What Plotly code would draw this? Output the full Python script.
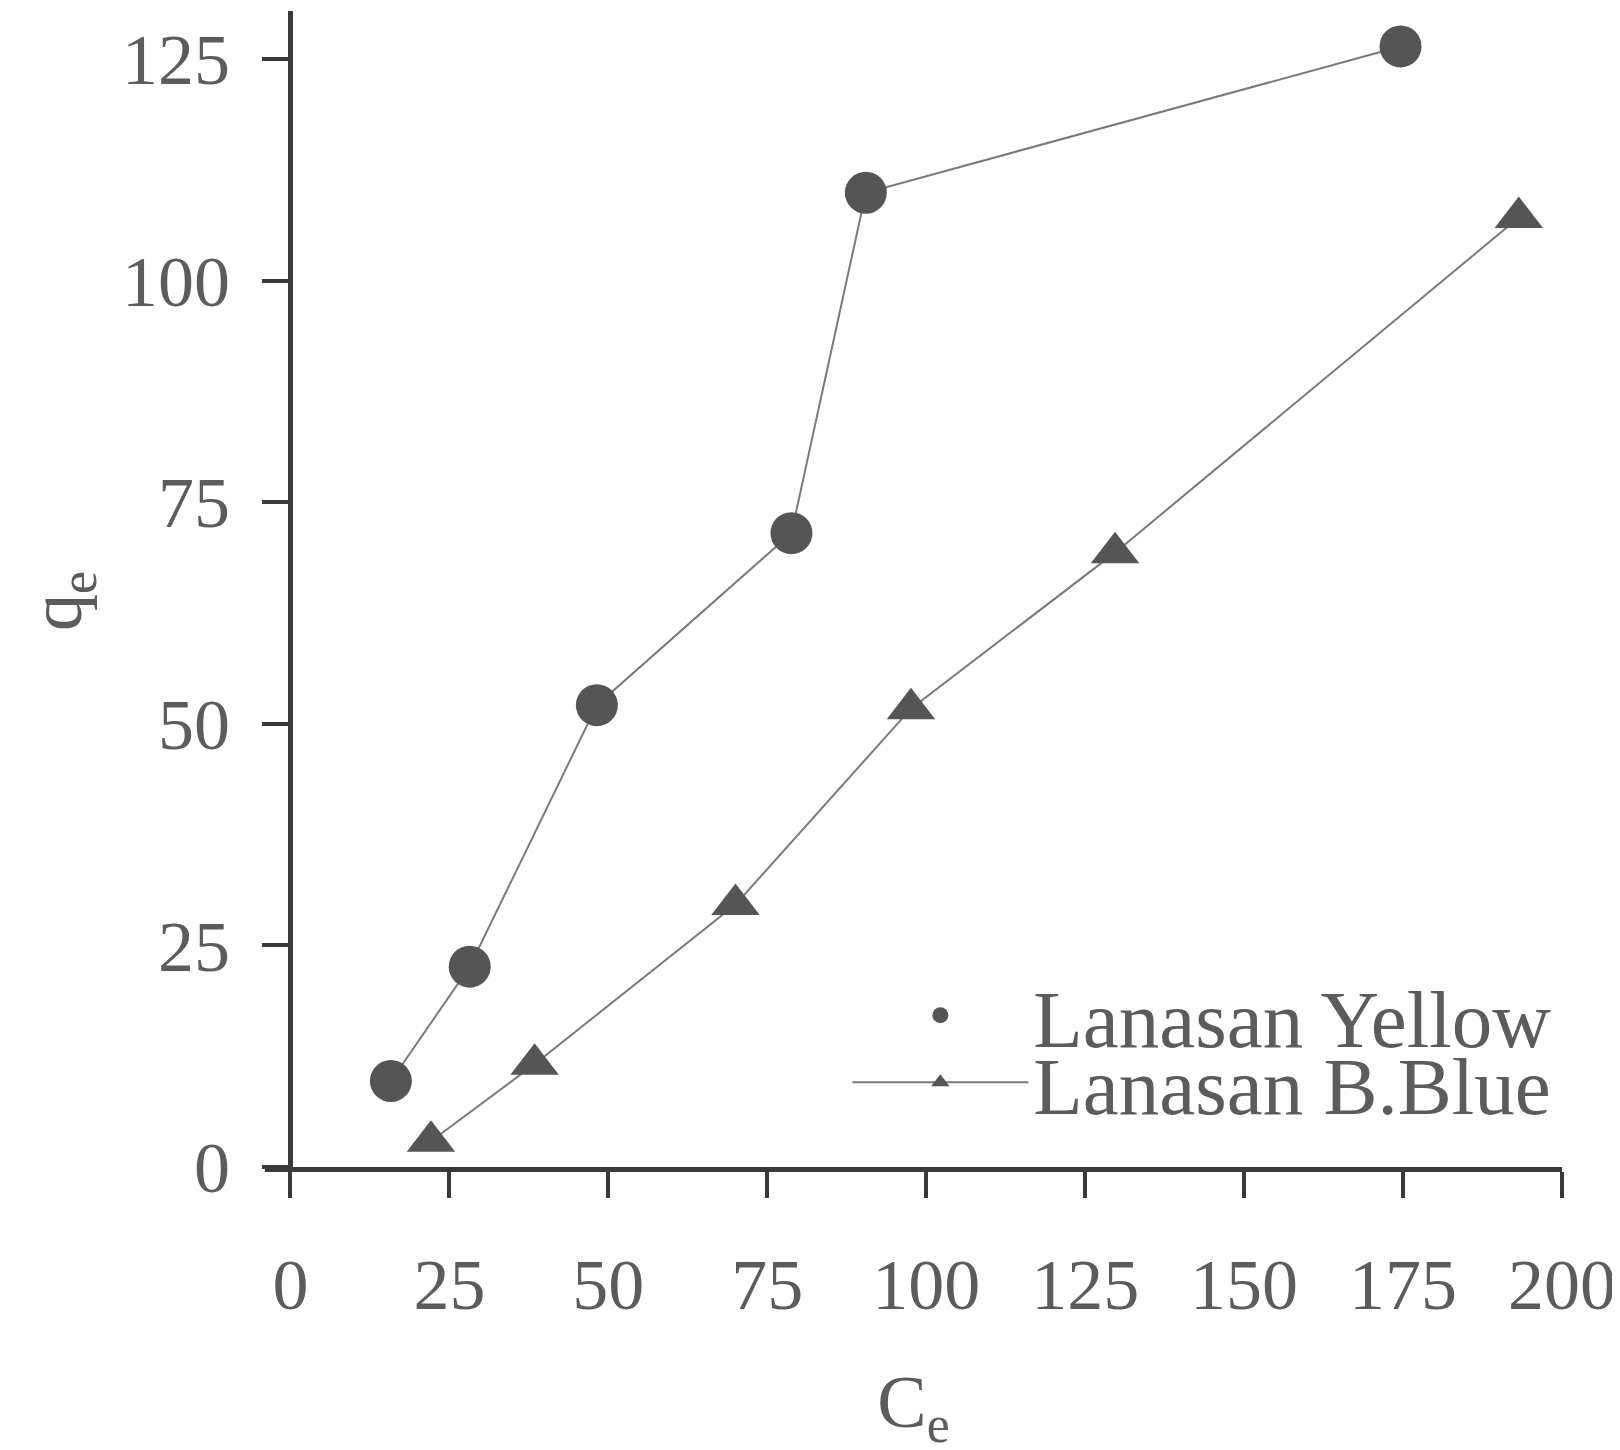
import plotly.graph_objects as go

# Data
yellow_ce = [15.8, 28.2, 48.2, 78.8, 90.5, 174.6]
yellow_qe = [9.7, 22.6, 52.1, 71.5, 109.9, 126.4]
blue_ce = [22.1, 38.4, 70.0, 97.6, 129.7, 193.2]
blue_qe = [2.9, 11.6, 29.6, 51.7, 69.3, 107.1]

x_ticks = [0, 25, 50, 75, 100, 125, 150, 175, 200]
y_ticks = [0, 25, 50, 75, 100, 125]

FONT = "Liberation Serif"
TXT = "#5c5c5c"
MARK = "#555555"
LINE = "#7a7a7a"
AXIS = "#3a3a3a"

fig = go.Figure()

fig.add_trace(go.Scatter(
    x=yellow_ce, y=yellow_qe, mode="lines+markers", name="Lanasan Yellow",
    line=dict(color=LINE, width=2),
    marker=dict(symbol="circle", size=42, color=MARK),
    showlegend=False,
))
# legend entry for Yellow (marker only, as in the reference)
fig.add_trace(go.Scatter(
    x=[None], y=[None], mode="markers", name="Lanasan Yellow",
    marker=dict(symbol="circle", size=42, color=MARK),
    legend="legend",
))
fig.add_trace(go.Scatter(
    x=blue_ce, y=blue_qe, mode="lines+markers", name="Lanasan B.Blue",
    line=dict(color=LINE, width=2),
    marker=dict(symbol="triangle-up", size=42, color=MARK),
    legend="legend2",
))

leg_common = dict(xanchor="left", yanchor="middle", bgcolor="rgba(0,0,0,0)",
                  font=dict(size=81, color=TXT, family=FONT),
                  itemsizing="trace", itemwidth=176)

fig.update_layout(
    width=1620, height=1450,
    margin=dict(l=257, r=66, t=3, b=291),
    paper_bgcolor="white", plot_bgcolor="white",
    font=dict(family=FONT, color=TXT, size=72),
    legend=dict(x=0.449, y=0.131, **leg_common),
    legend2=dict(x=0.449, y=0.073, **leg_common),
    xaxis=dict(
        range=[-4, 200], tickvals=x_ticks, ticktext=[str(v) for v in x_ticks],
        showline=True, linecolor=AXIS, linewidth=5, mirror=False,
        ticks="outside", ticklen=26, tickwidth=4, tickcolor=AXIS,
        showgrid=False, zeroline=False, automargin=False,
        ticklabelstandoff=25,
        tickfont=dict(size=72, family=FONT, color=TXT),
        title=dict(text="C<sub>e</sub>", font=dict(size=74, family=FONT, color=TXT), standoff=52),
    ),
    yaxis=dict(
        range=[0, 130.4], tickvals=y_ticks, ticktext=[str(v) for v in y_ticks],
        anchor="free", position=4 / 204,
        showline=True, linecolor=AXIS, linewidth=5,
        ticks="outside", ticklen=26, tickwidth=4, tickcolor=AXIS,
        showgrid=False, zeroline=False, automargin=False,
        ticklabelstandoff=18,
        tickfont=dict(size=72, family=FONT, color=TXT),
    ),
    annotations=[dict(
        text="q<sub>e</sub>", textangle=-90, showarrow=False,
        xref="paper", yref="paper", x=-0.157, y=0.49,
        xanchor="center", yanchor="middle",
        font=dict(size=74, family=FONT, color=TXT),
    )],
)

fig.write_html("out.html")
